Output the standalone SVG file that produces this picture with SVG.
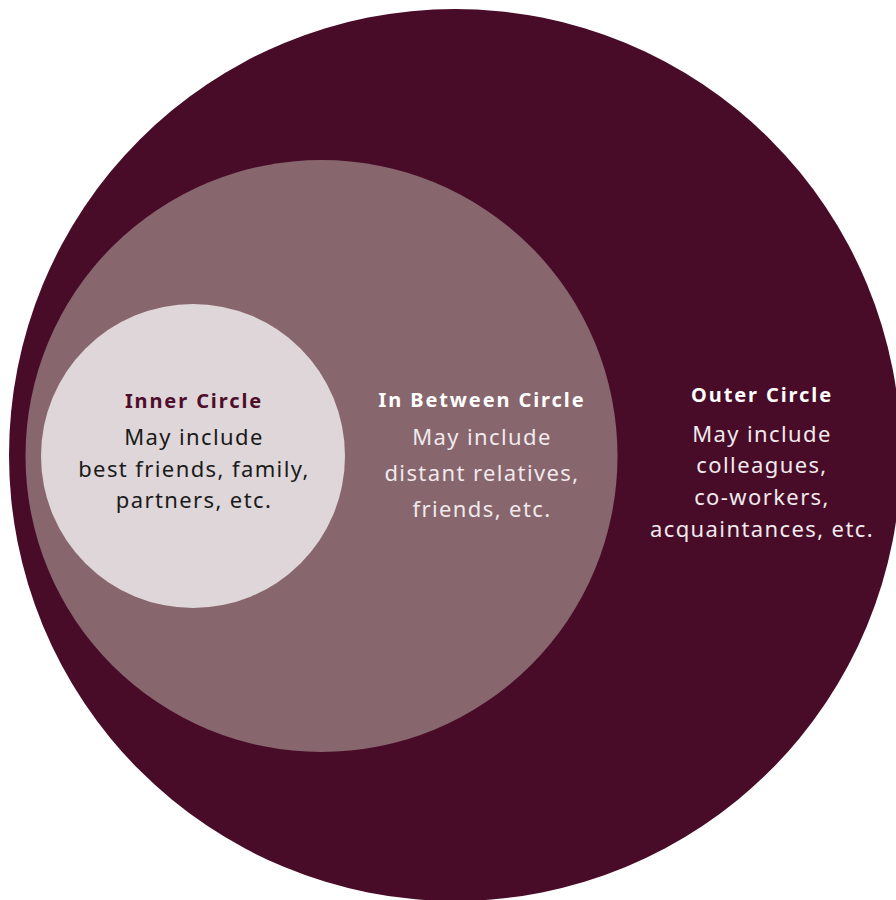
<svg xmlns="http://www.w3.org/2000/svg" width="896" height="900" viewBox="0 0 896 900">
<style>
.t{font-family:"Noto Sans","Liberation Sans",sans-serif;text-anchor:middle}
.h{font-size:20px;font-weight:bold;letter-spacing:1.9px}
.b{font-size:22px;letter-spacing:1.4px}
</style>
<rect width="896" height="900" fill="#ffffff"/>
<g id="outer">
<circle cx="455" cy="455" r="446" fill="#480c28"/>
<text class="t h" x="762" y="402" fill="#ffffff">Outer Circle</text>
<text class="t b" fill="#f1e9ec"><tspan x="762" y="442">May include</tspan><tspan x="762" y="473">colleagues,</tspan><tspan x="762" y="505">co-workers,</tspan><tspan x="762" y="537">acquaintances, etc.</tspan></text>
</g>
<g id="between">
<circle cx="321.5" cy="456" r="296" fill="#87666d"/>
<text class="t h" x="482" y="407" fill="#ffffff">In Between Circle</text>
<text class="t b" fill="#f1e9ec"><tspan x="482" y="445">May include</tspan><tspan x="482" y="481">distant relatives,</tspan><tspan x="482" y="517">friends, etc.</tspan></text>
</g>
<g id="inner">
<circle cx="193" cy="456" r="152" fill="#ded6d8"/>
<text class="t h" x="194" y="408" fill="#4f0c2b">Inner Circle</text>
<text class="t b" fill="#1a1a1a"><tspan x="194" y="445">May include</tspan><tspan x="194" y="477">best friends, family,</tspan><tspan x="194" y="508">partners, etc.</tspan></text>
</g>
<g id="connectors"/>
</svg>
